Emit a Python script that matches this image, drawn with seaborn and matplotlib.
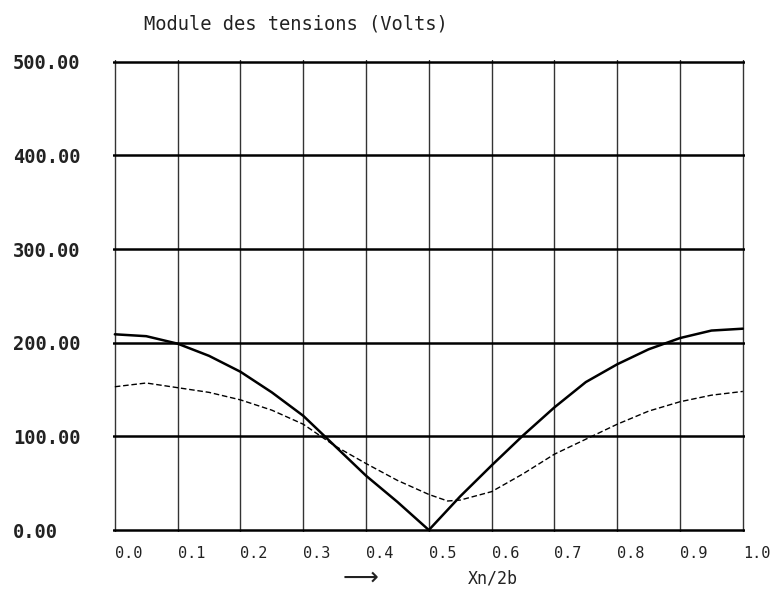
import matplotlib
matplotlib.use("Agg")
import matplotlib.pyplot as plt
import seaborn as sns
import pandas as pd

x_vals = [0.0, 0.05, 0.1, 0.15, 0.2, 0.25, 0.3, 0.35, 0.4, 0.45, 0.5,
          0.55, 0.6, 0.65, 0.7, 0.75, 0.8, 0.85, 0.9, 0.95, 1.0]
solid_vals = [209, 207, 199, 186, 169, 147, 122, 90, 58, 30, 0,
              36, 69, 101, 131, 158, 177, 193, 205, 213, 215]
dashed_x = [0.0, 0.05, 0.1, 0.15, 0.2, 0.25, 0.3, 0.35, 0.4, 0.45, 0.5,
            0.53, 0.55, 0.6, 0.65, 0.7, 0.75, 0.8, 0.85, 0.9, 0.95, 1.0]
dashed_vals = [153, 157, 152, 147, 139, 128, 113, 90, 71, 53, 38,
               31, 32, 41, 60, 81, 97, 113, 127, 137, 144, 148]
x_ticks = [0.0, 0.1, 0.2, 0.3, 0.4, 0.5, 0.6, 0.7, 0.8, 0.9, 1.0]
y_ticks = [0, 100, 200, 300, 400, 500]
title = "Module des tensions (Volts)"
xlabel = "Xn/2b"

df_solid = pd.DataFrame({"x": x_vals, "v": solid_vals})
df_dash = pd.DataFrame({"x": dashed_x, "v": dashed_vals})

sns.set_style("white")
plt.rcParams['font.family'] = ['DejaVu Sans Mono', 'DejaVu Sans']

fig = plt.figure(figsize=(7.79, 5.99), dpi=100)
ax = fig.add_axes([0.145, 0.112, 0.811, 0.788])

sns.lineplot(data=df_solid, x="x", y="v", ax=ax, color="black", linewidth=1.8)
sns.lineplot(data=df_dash, x="x", y="v", ax=ax, color="black", linewidth=1.0,
             linestyle=(0, (4, 2)))

ax.set_xlim(-0.003, 1.003)
ax.set_ylim(-2, 502)
ax.set_xticks(x_ticks)
ax.set_yticks(y_ticks)
ax.set_xticklabels([f"{t:.1f}" for t in x_ticks], ha="left")
ax.set_yticklabels([f"{t:.2f}" for t in y_ticks], fontweight="bold", ha="left")
ax.grid(True, axis="x", color="#333333", linewidth=1.0)
ax.grid(True, axis="y", color="black", linewidth=1.8)
for s in ax.spines.values():
    s.set_visible(False)
ax.tick_params(axis="both", direction="inout", length=8, color="black",
               labelsize=11, labelcolor="#222222")
ax.tick_params(axis="y", labelsize=13.5, pad=68)
ax.tick_params(axis="x", pad=6)
ax.set_xlabel("")
ax.set_ylabel("")

fig.text(0.185, 0.96, title, fontsize=13.5, ha="left", va="center", color="#222222")
fig.text(0.60, 0.035, xlabel, fontsize=12, ha="left", va="center", color="#222222")
fig.text(0.44, 0.035, "\u27f6", fontsize=18, ha="left", va="center", color="#222222",
         family=['DejaVu Sans'])

fig.savefig("out.png", dpi=100)
